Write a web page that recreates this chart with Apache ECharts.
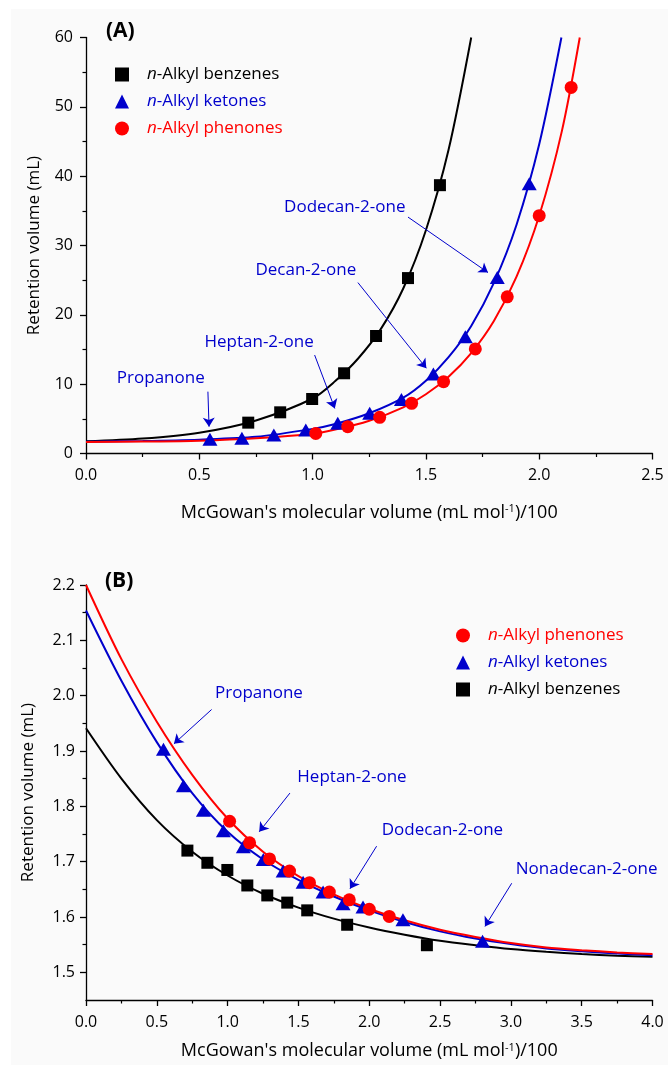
<!DOCTYPE html>
<html><head><meta charset="utf-8">
<script src="https://cdn.jsdelivr.net/npm/echarts@6/dist/echarts.min.js"></script>
<style>html,body{margin:0;padding:0;background:#fff}#c{width:668px;height:1065px}</style>
</head><body><div id="c"></div>
<script>
// ---------- Panel A data ----------
const benzeneA_X = [0.716, 0.857, 0.998, 1.139, 1.280, 1.421, 1.562];
const benzeneA_Y = [4.45, 5.94, 7.86, 11.57, 16.95, 25.3, 38.7];
const ketoneA_X = [0.547, 0.688, 0.829, 0.970, 1.111, 1.252, 1.392, 1.533, 1.674, 1.815, 1.956];
const ketoneA_Y = [2.05, 2.19, 2.67, 3.4, 4.35, 5.8, 7.8, 11.47, 16.85, 25.4, 38.9];
const phenoneA_X = [1.014, 1.155, 1.296, 1.437, 1.578, 1.718, 1.859, 2.000, 2.141];
const phenoneA_Y = [2.9, 3.87, 5.22, 7.24, 10.36, 15.08, 22.6, 34.3, 52.8];
// fitted curves
const fitA_black_X = [0, 0.25, 0.5, 0.75, 1.0, 1.1, 1.2, 1.3, 1.4, 1.5, 1.6, 1.7];
const fitA_black_Y = [1.75, 2.15, 3.0, 4.77, 7.93, 10.45, 13.67, 17.9, 23.8, 32.2, 43.8, 60];
const fitA_blue_X = [0, 0.25, 0.5, 0.75, 1.0, 1.1, 1.25, 1.4, 1.5, 1.6, 1.7, 1.8, 1.9, 2.0, 2.098];
const fitA_blue_Y = [1.7, 1.8, 2.0, 2.4, 3.55, 4.25, 5.8, 8.05, 10.5, 13.9, 18.4, 24.6, 33.0, 44.6, 60];
const fitA_red_X = [0, 0.25, 0.5, 0.75, 1.0, 1.1, 1.25, 1.4, 1.5, 1.6, 1.7, 1.8, 1.9, 2.0, 2.1, 2.179];
const fitA_red_Y = [1.65, 1.72, 1.85, 2.2, 2.85, 3.45, 4.73, 6.66, 8.54, 11.07, 14.48, 19.1, 25.5, 34.3, 46.5, 60];
// annotations: [label, labelX, labelY, fromX, fromY, toX, toY]
const annotA = [
  ["Propanone", 0.330, 10.9, 0.538, 8.92, 0.543, 3.87],
  ["Heptan-2-one", 0.764, 16.1, 1.009, 14.2, 1.098, 6.5],
  ["Decan-2-one", 0.970, 26.4, 1.200, 24.65, 1.502, 12.3],
  ["Dodecan-2-one", 1.142, 35.6, 1.421, 34.1, 1.774, 26.1]
];
// ---------- Panel B data ----------
const benzeneB_X = [0.716, 0.857, 0.998, 1.139, 1.280, 1.421, 1.562, 1.844, 2.407];
const benzeneB_Y = [1.720, 1.698, 1.685, 1.657, 1.639, 1.626, 1.612, 1.586, 1.549];
const ketoneB_X = [0.547, 0.688, 0.829, 0.970, 1.111, 1.252, 1.392, 1.533, 1.674, 1.815, 1.956, 2.238, 2.800];
const ketoneB_Y = [1.903, 1.837, 1.793, 1.756, 1.727, 1.704, 1.683, 1.663, 1.645, 1.624, 1.618, 1.595, 1.556];
const phenoneB_X = [1.014, 1.155, 1.296, 1.437, 1.578, 1.718, 1.859, 2.000, 2.141];
const phenoneB_Y = [1.773, 1.734, 1.705, 1.683, 1.662, 1.645, 1.631, 1.614, 1.601];
const fitB_X = [0, 0.25, 0.5, 0.75, 1.0, 1.25, 1.5, 1.75, 2.0, 2.25, 2.5, 2.75, 3.0, 3.25, 3.5, 3.75, 4.0];
const fitB_red_Y = [2.200, 2.066, 1.953, 1.857, 1.778, 1.718, 1.674, 1.641, 1.615, 1.594, 1.577, 1.564, 1.553, 1.545, 1.540, 1.536, 1.533];
const fitB_blue_Y = [2.154, 2.027, 1.916, 1.824, 1.754, 1.704, 1.667, 1.637, 1.612, 1.591, 1.574, 1.561, 1.551, 1.543, 1.538, 1.534, 1.531];
const fitB_black_Y = [1.941, 1.850, 1.775, 1.718, 1.675, 1.642, 1.617, 1.597, 1.581, 1.568, 1.557, 1.549, 1.542, 1.537, 1.533, 1.530, 1.528];
const annotB = [
  ["Propanone", 1.221, 2.004, 0.887, 1.975, 0.621, 1.913],
  ["Heptan-2-one", 1.878, 1.853, 1.440, 1.824, 1.223, 1.754],
  ["Dodecan-2-one", 2.517, 1.757, 2.052, 1.728, 1.864, 1.651],
  ["Nonadecan-2-one", 3.535, 1.687, 3.006, 1.661, 2.817, 1.583]
];
// tick labels
const yTicksB_major = [1.5, 1.6, 1.7, 1.8, 1.9, 2.0, 2.1, 2.2];
const yTicksB_minor = [1.55, 1.65, 1.75, 1.85, 1.95, 2.05, 2.15];

const NAME_BZ = 'n-Alkyl benzenes', NAME_KT = 'n-Alkyl ketones', NAME_PH = 'n-Alkyl phenones';
const BLUE = '#0000cc', RED = '#ff0000', BLACK = '#000000';
const FONT = 'Open Sans';
const zip = (xs, ys) => xs.map((x, i) => [x, ys[i]]);

function xAxis(gi, max) {
  return {
    type: 'value', gridIndex: gi, min: 0, max: max, interval: 0.5,
    axisLine: {show: true, onZero: false, lineStyle: {color: BLACK, width: 1.3}},
    axisTick: {show: true, length: 6, lineStyle: {color: BLACK, width: 1.3}},
    minorTick: {show: true, splitNumber: 2, length: 3.5, lineStyle: {color: BLACK, width: 1.2}},
    splitLine: {show: false}, minorSplitLine: {show: false},
    axisLabel: {color: BLACK, fontSize: 16, fontFamily: FONT, margin: 14, formatter: v => v.toFixed(1)},
    name: "McGowan's molecular volume (mL mol{sup|-1})/100",
    nameLocation: 'middle', nameGap: gi === 0 ? 50 : 42,
    nameTextStyle: {color: BLACK, fontSize: 18, fontFamily: FONT,
      rich: {sup: {fontSize: 11, fontFamily: FONT, color: BLACK, verticalAlign: 'top'}}}
  };
}
const yName = {color: BLACK, fontSize: 17, fontFamily: FONT};

function curve(name, xi, data, color) {
  return {type: 'line', name: name, xAxisIndex: xi, yAxisIndex: xi === 0 ? 0 : 1, data: data,
    showSymbol: false, symbol: 'none', smooth: 0.3, z: 2, silent: true,
    lineStyle: {color: color, width: 2}, itemStyle: {color: color}};
}
function pts(name, xi, data, symbol, size, color) {
  return {type: 'scatter', name: name, xAxisIndex: xi, yAxisIndex: xi === 0 ? 0 : 1, data: data,
    symbol: symbol, symbolSize: size, z: 4, itemStyle: {color: color, opacity: 1}};
}
function annot(xi, arr) {
  return {type: 'scatter', name: 'annot' + xi, xAxisIndex: xi, yAxisIndex: xi === 0 ? 0 : 1,
    data: arr.map(a => ({name: a[0], value: [a[1], a[2]]})),
    symbolSize: 1, itemStyle: {color: 'rgba(0,0,0,0)'}, silent: true, z: 5,
    label: {show: true, position: 'inside', formatter: p => p.name, color: BLUE, fontSize: 17, fontFamily: FONT,
      textBorderWidth: 0, textBorderColor: 'transparent', textShadowBlur: 0, opacity: 1},
    markLine: {silent: true, symbol: ['none', 'arrow'], symbolSize: 9, animation: false,
      label: {show: false}, emphasis: {disabled: true},
      itemStyle: {color: BLUE, opacity: 1},
      lineStyle: {color: BLUE, width: 1, type: 'solid', opacity: 1},
      data: arr.map(a => [{coord: [a[3], a[4]]}, {coord: [a[5], a[6]]}])}
  };
}
function legend(left, top, names, icons, colors) {
  const fs = 17, lh = 16;
  return {
    orient: 'vertical', left: left, top: top, itemWidth: 14, itemHeight: 14, itemGap: 10,
    selectedMode: false, padding: 0,
    textStyle: {fontSize: fs, fontFamily: FONT, lineHeight: lh,
      rich: {g: {width: 13, fontSize: fs, fontFamily: FONT, lineHeight: lh},
             i: {fontStyle: 'italic', fontSize: fs, fontFamily: FONT, lineHeight: lh},
             t: {fontSize: fs, fontFamily: FONT, lineHeight: lh}}},
    formatter: n => '{g| }{i|n}{t|' + n.slice(1) + '}',
    data: names.map((n, i) => ({name: n, icon: icons[i], itemStyle: {color: colors[i]},
      textStyle: {color: colors[i], rich: {i: {color: colors[i]}, t: {color: colors[i]}}}}))
  };
}

const option = {
  animation: false,
  backgroundColor: '#ffffff',
  graphic: [
    {type: 'rect', shape: {x: 11, y: 9, width: 657, height: 1056}, style: {fill: '#fafafa'}, z: -100, silent: true},
    {type: 'text', x: 106, y: 31.5, style: {text: '(A)', fontSize: 21, fontWeight: 'bold', fontFamily: FONT, fill: BLACK, verticalAlign: 'middle'}},
    {type: 'text', x: 105, y: 581, style: {text: '(B)', fontSize: 21, fontWeight: 'bold', fontFamily: FONT, fill: BLACK, verticalAlign: 'middle'}}
  ],
  grid: [
    {left: 86, top: 37.5, width: 566.5, height: 416, outerBoundsMode: 'none', containLabel: false},
    {left: 86, top: 585, width: 566.5, height: 415, outerBoundsMode: 'none', containLabel: false}
  ],
  legend: [
    legend(115, 66, [NAME_BZ, NAME_KT, NAME_PH], ['rect', 'triangle', 'circle'], [BLACK, BLUE, RED]),
    legend(456, 627, [NAME_PH, NAME_KT, NAME_BZ], ['circle', 'triangle', 'rect'], [RED, BLUE, BLACK])
  ],
  xAxis: [xAxis(0, 2.5), xAxis(1, 4.0)],
  yAxis: [
    {type: 'value', gridIndex: 0, min: 0, max: 60, interval: 10,
      axisLine: {show: true, onZero: false, lineStyle: {color: BLACK, width: 1.3}},
      axisTick: {show: true, length: 6, lineStyle: {color: BLACK, width: 1.3}},
      minorTick: {show: true, splitNumber: 2, length: 3.5, lineStyle: {color: BLACK, width: 1.2}},
      splitLine: {show: false}, minorSplitLine: {show: false},
      axisLabel: {color: BLACK, fontSize: 16, fontFamily: FONT, margin: 13},
      name: 'Retention volume (mL)', nameLocation: 'middle', nameGap: 43, nameTextStyle: yName},
    {type: 'value', gridIndex: 1, min: 1.45, max: 2.2, interval: 0.05,
      axisLine: {show: true, onZero: false, lineStyle: {color: BLACK, width: 1.3}},
      axisTick: {show: true, length: 6, customValues: yTicksB_major, lineStyle: {color: BLACK, width: 1.3}},
      splitLine: {show: false},
      axisLabel: {color: BLACK, fontSize: 16, fontFamily: FONT, margin: 11, customValues: yTicksB_major,
        formatter: v => Number(v).toFixed(1)},
      name: 'Retention volume (mL)', nameLocation: 'middle', nameGap: 49, nameTextStyle: yName},
    {type: 'value', gridIndex: 1, min: 1.45, max: 2.2, position: 'left', offset: 0,
      axisLine: {show: false},
      axisTick: {show: true, length: 3.5, customValues: yTicksB_minor, lineStyle: {color: BLACK, width: 1.2}},
      axisLabel: {show: false}, splitLine: {show: false}}
  ],
  series: [
    curve('fitA_black', 0, zip(fitA_black_X, fitA_black_Y), BLACK),
    curve('fitA_blue', 0, zip(fitA_blue_X, fitA_blue_Y), BLUE),
    curve('fitA_red', 0, zip(fitA_red_X, fitA_red_Y), RED),
    pts(NAME_BZ, 0, zip(benzeneA_X, benzeneA_Y), 'rect', 12, BLACK),
    pts(NAME_KT, 0, zip(ketoneA_X, ketoneA_Y), 'triangle', [15, 13], BLUE),
    pts(NAME_PH, 0, zip(phenoneA_X, phenoneA_Y), 'circle', 13, RED),
    annot(0, annotA),
    curve('fitB_black', 1, zip(fitB_X, fitB_black_Y), BLACK),
    curve('fitB_blue', 1, zip(fitB_X, fitB_blue_Y), BLUE),
    curve('fitB_red', 1, zip(fitB_X, fitB_red_Y), RED),
    pts(NAME_BZ, 1, zip(benzeneB_X, benzeneB_Y), 'rect', 12, BLACK),
    pts(NAME_KT, 1, zip(ketoneB_X, ketoneB_Y), 'triangle', [15, 13], BLUE),
    pts(NAME_PH, 1, zip(phenoneB_X, phenoneB_Y), 'circle', 13, RED),
    annot(1, annotB)
  ]
};
const chart = echarts.init(document.getElementById('c'), null, {renderer: 'canvas'});
chart.setOption(option);
</script></body></html>
